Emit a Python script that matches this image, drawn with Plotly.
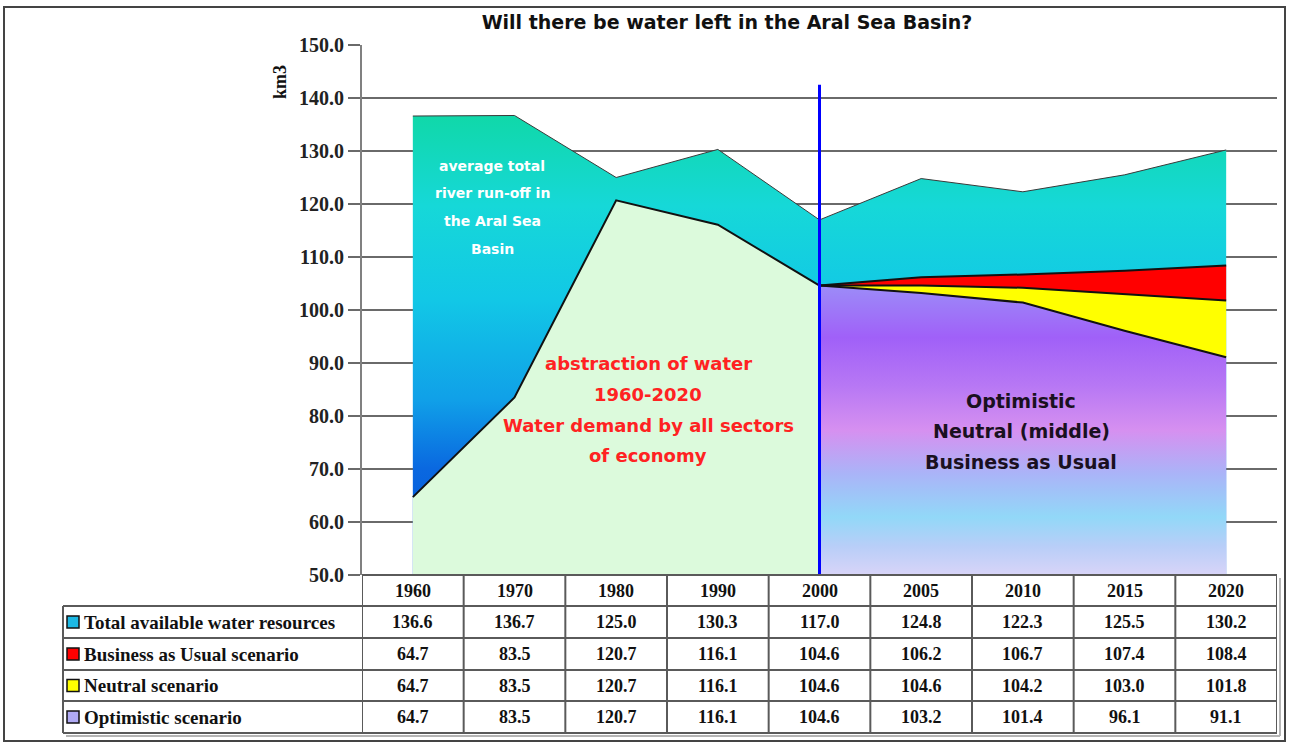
import plotly.graph_objects as go

# ---- data (km3) ----
YEARS = ["1960", "1970", "1980", "1990", "2000", "2005", "2010", "2015", "2020"]
TOTAL = [136.6, 136.7, 125.0, 130.3, 117.0, 124.8, 122.3, 125.5, 130.2]
BUSINESS = [64.7, 83.5, 120.7, 116.1, 104.6, 106.2, 106.7, 107.4, 108.4]
NEUTRAL = [64.7, 83.5, 120.7, 116.1, 104.6, 104.6, 104.2, 103.0, 101.8]
OPTIMISTIC = [64.7, 83.5, 120.7, 116.1, 104.6, 103.2, 101.4, 96.1, 91.1]
ROW_LABELS = ["Total available water resources", "Business as Usual scenario",
              "Neutral scenario", "Optimistic scenario"]
SPLIT_YEAR = "2000"

W, H = 1289, 744
L, R, T, B = 362, 1277, 45, 575      # plot area in pixels
Y0, Y1 = 50, 150

def px(x):
    return (x - L) / (R - L)

def py(y):
    return (B - y) / (B - T)

split = YEARS.index(SPLIT_YEAR)
hist_x = YEARS[:split + 1]
scen_x = YEARS[split:]

fig = go.Figure()

# total available water (gradient area)
fig.add_trace(go.Scatter(
    x=YEARS, y=TOTAL, mode="lines", fill="tozeroy",
    line=dict(color="#3a3a3a", width=1),
    fillgradient=dict(type="vertical", start=Y0, stop=137,
                      colorscale=[[0.0, "#0050d8"], [0.23, "#0a68e0"],
                                  [0.38, "#10a0e8"], [0.6, "#12c8e6"],
                                  [0.8, "#16d8d8"], [1.0, "#10d8a8"]]),
    showlegend=False, hoverinfo="skip"))

# historical abstraction
fig.add_trace(go.Scatter(
    x=hist_x, y=BUSINESS[:split + 1], mode="lines", fill="tozeroy",
    fillcolor="#dcfadc", line=dict(color="#111111", width=2),
    showlegend=False, hoverinfo="skip"))

# scenarios after the split year
fig.add_trace(go.Scatter(
    x=scen_x, y=OPTIMISTIC[split:], mode="lines", fill="tozeroy",
    line=dict(color="#111111", width=2),
    fillgradient=dict(type="vertical", start=Y0, stop=OPTIMISTIC[split],
                      colorscale=[[0.0, "#d8d4f8"], [0.1, "#b8cef8"],
                                  [0.2, "#92d8f8"], [0.35, "#aab4f8"],
                                  [0.5, "#d690f0"], [0.65, "#b878f4"],
                                  [0.82, "#a060f8"], [1.0, "#9c8cf8"]]),
    showlegend=False, hoverinfo="skip"))
fig.add_trace(go.Scatter(
    x=scen_x, y=NEUTRAL[split:], mode="lines", fill="tonexty",
    fillcolor="#ffff00", line=dict(color="#111111", width=2),
    showlegend=False, hoverinfo="skip"))
fig.add_trace(go.Scatter(
    x=scen_x, y=BUSINESS[split:], mode="lines", fill="tonexty",
    fillcolor="#ff0000", line=dict(color="#111111", width=2),
    showlegend=False, hoverinfo="skip"))

shapes = []
annotations = []

# vertical divider at the split year
shapes.append(dict(type="line", xref="x", yref="y", x0=split, x1=split,
                   y0=Y0, y1=142.5, line=dict(color="#0000ff", width=3),
                   layer="above"))

# ---- data table below the axis ----
grid_col = "#5a5a5a"
row_edges = [575, 606, 638, 670, 701, 733]
n = len(YEARS)
# horizontal lines
shapes.append(dict(type="line", xref="paper", yref="paper", x0=0, x1=1,
                   y0=py(row_edges[0]), y1=py(row_edges[0]),
                   line=dict(color=grid_col, width=2)))
for ye in row_edges[1:]:
    shapes.append(dict(type="line", xref="paper", yref="paper", x0=px(63), x1=1,
                       y0=py(ye), y1=py(ye), line=dict(color=grid_col, width=2)))
# vertical lines
shapes.append(dict(type="line", xref="paper", yref="paper", x0=px(63), x1=px(63),
                   y0=py(row_edges[1]), y1=py(row_edges[-1]),
                   line=dict(color=grid_col, width=2)))
for i in range(n + 1):
    shapes.append(dict(type="line", xref="x", yref="paper", x0=i - 0.5, x1=i - 0.5,
                       y0=py(row_edges[0]), y1=py(row_edges[-1]),
                       line=dict(color=grid_col, width=2)))
# soft shadow on the right and bottom edges
shapes.append(dict(type="line", xref="paper", yref="paper", x0=px(1280), x1=px(1280),
                   y0=py(row_edges[0] + 3), y1=py(row_edges[-1] + 3),
                   line=dict(color="#b5b5b5", width=2)))
shapes.append(dict(type="line", xref="paper", yref="paper", x0=px(66), x1=px(1280),
                   y0=py(row_edges[-1] + 3), y1=py(row_edges[-1] + 3),
                   line=dict(color="#b5b5b5", width=2)))

serif = "Liberation Serif"
cell_font = dict(family=serif, size=18, color="#111111", weight="bold")

# header row with the years
hy = py((row_edges[0] + row_edges[1]) / 2)
for i, yr in enumerate(YEARS):
    annotations.append(dict(xref="x", yref="paper", x=i, y=hy, text=yr,
                            showarrow=False, font=cell_font,
                            xanchor="center", yanchor="middle"))

rows = [TOTAL, BUSINESS, NEUTRAL, OPTIMISTIC]
swatches = ["#1cb8e4", "#ff0000", "#ffff00", "#b0aaf4"]
for r, (label, vals) in enumerate(zip(ROW_LABELS, rows)):
    yc = (row_edges[r + 1] + row_edges[r + 2]) / 2
    for i, v in enumerate(vals):
        annotations.append(dict(xref="x", yref="paper", x=i, y=py(yc),
                                text=f"{v:.1f}", showarrow=False, font=cell_font,
                                xanchor="center", yanchor="middle"))
    annotations.append(dict(xref="paper", yref="paper", x=px(82), y=py(yc),
                            text=label, showarrow=False,
                            font=dict(family=serif, size=19, color="#111111",
                                      weight="bold"),
                            xanchor="left", yanchor="middle"))
    shapes.append(dict(type="rect", xref="paper", yref="paper",
                       x0=px(67), x1=px(79), y0=py(yc - 6), y1=py(yc + 6),
                       fillcolor=swatches[r], line=dict(color="#111111", width=1.5)))

# ---- text inside the chart ----
def text_lines(lines, xc, ys, size, color, family="DejaVu Sans"):
    for t, yv in zip(lines, ys):
        annotations.append(dict(xref="paper", yref="paper", x=px(xc), y=py(yv),
                                text=t, showarrow=False,
                                font=dict(family=family, size=size, color=color,
                                          weight="bold"),
                                xanchor="center", yanchor="middle"))

text_lines(["average total", "river run-off in", "the Aral Sea", "Basin"],
           492, [166, 193, 221, 249], 14, "#ffffff")
text_lines(["abstraction of water", "1960-2020", "Water demand by all sectors",
            "of economy"], 648, [363, 394, 425, 456], 18, "#ff2222")
text_lines(["Optimistic", "Neutral (middle)", "Business as Usual"],
           1021, [401, 431, 462], 19, "#1a1020")

# y-axis title
annotations.append(dict(xref="paper", yref="paper", x=px(280), y=py(82), text="km3",
                        textangle=-90, showarrow=False,
                        font=dict(family=serif, size=18, color="#111111", weight="bold"),
                        xanchor="center", yanchor="middle"))

# outer frame
shapes.append(dict(type="rect", xref="paper", yref="paper",
                   x0=px(4), x1=px(1285), y0=py(7), y1=py(741),
                   line=dict(color="#444444", width=2), fillcolor="rgba(0,0,0,0)"))

fig.update_layout(
    width=W, height=H,
    margin=dict(l=L, r=W - R, t=T, b=H - B),
    paper_bgcolor="white", plot_bgcolor="white",
    title=dict(text="Will there be water left in the Aral Sea Basin?",
               x=727 / W, xanchor="center", y=1 - 22 / H, yanchor="middle",
               font=dict(family="DejaVu Sans", size=19, color="#111111",
                         weight="bold")),
    xaxis=dict(type="category", range=[-0.5, n - 0.5], showticklabels=False,
               showgrid=False, zeroline=False, showline=False, ticks=""),
    yaxis=dict(range=[Y0, Y1], dtick=10, tickformat=".1f",
               showgrid=True, gridcolor="#6a6a6a", gridwidth=2,
               showline=True, linecolor="#808080", linewidth=2,
               ticks="outside", ticklen=12, tickcolor="#6a6a6a", tickwidth=2,
               zeroline=False,
               tickfont=dict(family=serif, size=20, color="#222222", weight="bold")),
    shapes=shapes, annotations=annotations,
    showlegend=False,
)

fig.write_html("out.html")
